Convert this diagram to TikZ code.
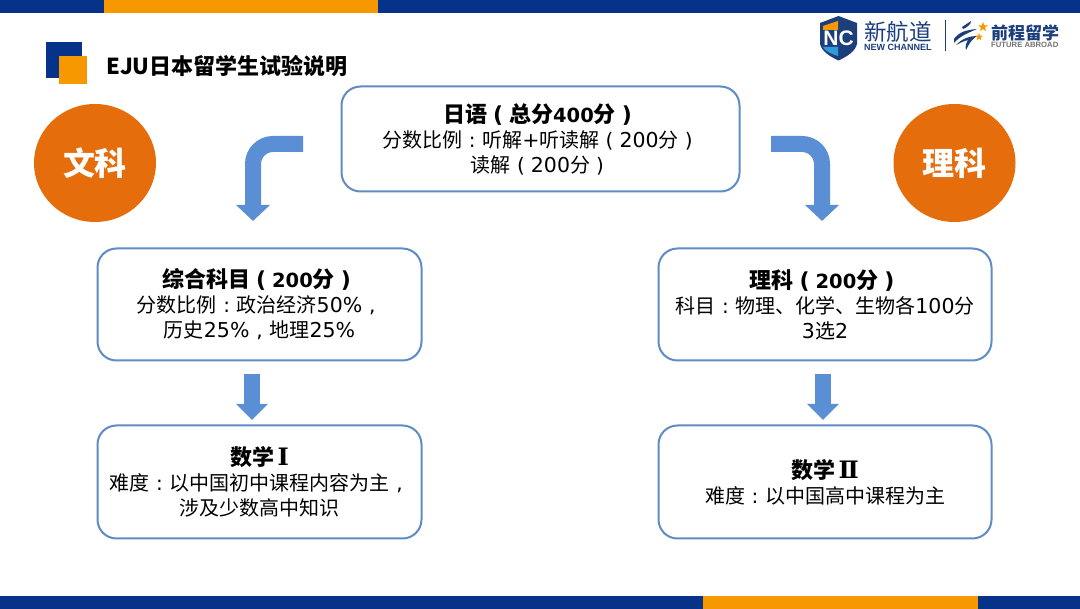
\documentclass[tikz,border=0pt]{standalone}
\usepackage{fontspec}
\usetikzlibrary{arrows.meta,shapes.geometric}
\setmainfont{Noto Sans CJK SC}
\newfontfamily\latinbold[BoldFont=Liberation Sans Bold]{Liberation Sans}
\newfontfamily\dvfont{DejaVu Sans}
\newfontfamily\dvserif{DejaVu Serif}
\definecolor{navy}{HTML}{07328A}
\definecolor{amber}{HTML}{F79800}
\definecolor{burnt}{HTML}{E56D0C}
\definecolor{flow}{HTML}{5A8FD6}
\definecolor{edge}{HTML}{5F8CC4}
\definecolor{logoblue}{HTML}{1C3F7C}
\definecolor{logolight}{HTML}{2E9BD6}
\tikzset{
  infobox/.style={draw=edge,line width=2pt,fill=white,rounded corners=19pt,align=center,inner sep=0pt,text=black,
    font=\fontsize{20}{25}\selectfont},
  badge/.style={ellipse,fill=burnt,minimum width=122pt,minimum height=118pt,inner sep=0pt,text=white,font=\fontsize{32}{36}\selectfont\bfseries},
  blockflow/.style={draw=flow,line width=16pt,-{Triangle[width=33pt,length=16pt,fill=flow]}},
  narrowflow/.style={draw=flow,line width=16pt,-{Triangle[width=31pt,length=16pt,fill=flow]}},
}
\newcommand{\headline}[1]{{\fontsize{22}{25}\selectfont\bfseries #1}}
\newcommand{\pn}[1]{\makebox[1em][c]{\dvfont #1}}
\newcommand{\nm}[1]{{\dvfont\fontsize{20.5}{25}\selectfont #1}}
\newcommand{\hnm}[1]{{\dvfont\fontsize{19.5}{25}\selectfont #1}}
\begin{document}
\begin{tikzpicture}[x=1pt,y=-1pt]
\useasboundingbox (0,0) rectangle (1080,609);
\fill[white] (0,0) rectangle (1080,609);
% bars
\fill[navy] (0,0) rectangle (1080,13);
\fill[amber] (104,0) rectangle (378,13);
\fill[navy] (0,596) rectangle (1080,609);
\fill[amber] (703,596) rectangle (978,609);
% title mark
\fill[navy] (46,42) rectangle (82,78);
\fill[amber] (59,56) rectangle (87,84);
\node[anchor=west,inner sep=0pt,font=\fontsize{22}{25}\selectfont\bfseries] (title) at (106,66) {EJU日本留学生试验说明};
% badges
\node[badge] (wen) at (95,163) {文科};
\node[badge] (li) at (954.5,163) {理科};
% boxes
\node[infobox,minimum width=398pt,minimum height=105pt] (top) at (540.5,139) {\headline{日语\pn{(}总分\hnm{400}分\pn{)}}\\分数比例\pn{:}听解\nm{+}听读解\pn{(}\nm{200}分\pn{)}\\读解\pn{(}\nm{200}分\pn{)}};
\node[infobox,minimum width=324pt,minimum height=112pt] (l1) at (259.5,304.5) {\headline{综合科目\pn{(}\hnm{200}分\pn{)}}\\分数比例\pn{:}政治经济\nm{50\%}\pn{,}\\历史\nm{25\%}\pn{,}地理\nm{25\%}};
\node[infobox,minimum width=324pt,minimum height=113pt] (l2) at (259.5,482) {\headline{数学\,{\dvserif\fontsize{24}{25}\selectfont Ⅰ}}\\难度\pn{:}以中国初中课程内容为主\pn{,}\\涉及少数高中知识};
\node[infobox,minimum width=333pt,minimum height=112pt] (r1) at (825,304.5) {\headline{理科\pn{(}\hnm{200}分\pn{)}}\\科目\pn{:}物理、化学、生物各\nm{100}分\\\nm{3}选\nm{2}};
\node[infobox,minimum width=333pt,minimum height=113pt] (r2) at (825,482) {\headline{数学\,{\dvserif\fontsize{24}{25}\selectfont Ⅱ}}\\难度\pn{:}以中国高中课程为主};
% connectors
\coordinate (lstart) at (303,144);
\coordinate (lend) at (253,221);
\coordinate (rstart) at (771,144);
\coordinate (rend) at (822,221);
\draw[blockflow,rounded corners=20pt] (lstart) -- (lend |- lstart) -- (lend);
\draw[blockflow,rounded corners=20pt] (rstart) -- (rend |- rstart) -- (rend);
\coordinate (d1a) at (252,374); \coordinate (d1b) at (252,420);
\coordinate (d2a) at (823,374); \coordinate (d2b) at (823,420);
\draw[narrowflow] (d1a) -- (d1b);
\draw[narrowflow] (d2a) -- (d2b);
% logo: shield
\fill[logoblue] (820,23) -- (838.5,16) -- (857,23) -- (857,44) .. controls (855,52) and (846,57) .. (838.5,60.5) .. controls (831,57) and (822,52) .. (820,44) -- cycle;
\fill[amber] (823,26) -- (838,21) -- (838,30) -- (823,30) -- cycle;
\fill[logolight] (823,47) -- (838,47) -- (838,56) .. controls (831,54) and (825,51) .. (823,47) -- cycle;
\node[inner sep=0pt,text=white,font=\latinbold\fontsize{21}{21}\selectfont\bfseries] (nc) at (838.5,38.5) {NC};
\node[anchor=west,inner sep=0pt,text=logoblue,font=\fontsize{22.5}{23}\selectfont] (xhd) at (864,32) {新航道};
\node[anchor=west,inner sep=0pt,text=logoblue,font=\latinbold\fontsize{9}{9}\selectfont\bfseries] (newch) at (864,47) {NEW CHANNEL};
\coordinate (diva) at (945.5,20); \coordinate (divb) at (945.5,51);
\draw[logoblue,line width=0.9pt] (diva) -- (divb);
% logo: swoosh
\fill[logoblue] (954,39) .. controls (959,32) and (966,30) .. (977,29) .. controls (968,33) and (960,36) .. (954,43) -- cycle;
\fill[logoblue] (962,27) .. controls (965,25) and (968,23) .. (971,21) .. controls (971,24) and (968,27) .. (963,29) -- cycle;
\fill[logoblue] (956,45) .. controls (963,38) and (970,36) .. (977,36) .. controls (971,40) and (969,44) .. (966,50) .. controls (965,47) and (966,43) .. (968,40) .. controls (964,41) and (960,43) .. (956,45) -- cycle;
\node[star,star points=5,star point ratio=2.3,fill=amber,inner sep=0pt,minimum size=10pt] (s1) at (983,27) {};
\node[star,star points=5,star point ratio=2.3,fill=amber,inner sep=0pt,minimum size=8pt] (s2) at (979,37) {};
\node[anchor=west,inner sep=0pt,text=logoblue,font=\fontsize{17}{18}\selectfont\bfseries] (qc) at (991,32.5) {前程留学};
\node[anchor=west,inner sep=0pt,text=black!55,font=\latinbold\fontsize{7.7}{8}\selectfont\bfseries] (fa) at (991,45) {FUTURE ABROAD};
\end{tikzpicture}
\end{document}
